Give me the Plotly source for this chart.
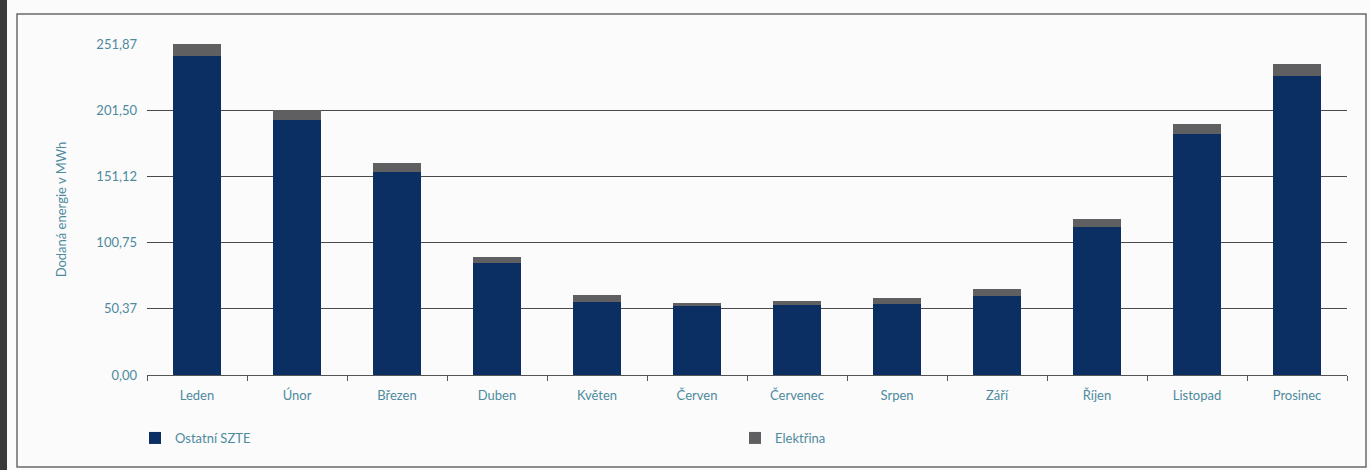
import plotly.graph_objects as go

months = ["Leden", "Únor", "Březen", "Duben", "Květen", "Červen",
          "Červenec", "Srpen", "Září", "Říjen", "Listopad", "Prosinec"]
ostatni_szte = [242.8, 194.1, 154.7, 85.0, 55.8, 52.5, 53.3, 53.8, 60.1, 112.6, 183.2, 227.5]
elektrina = [9.1, 7.4, 6.4, 5.0, 5.1, 2.5, 3.0, 4.6, 5.1, 6.1, 7.6, 9.0]
tick_vals = [0, 50.37, 100.75, 151.12, 201.50, 251.87]
tick_text = ["0,00", "50,37", "100,75", "151,12", "201,50", "251,87"]

NAVY = "#0b2f63"
GREY = "#5f5f62"
TXT = "#4d8a9e"
FONT = "Lato"

L, R, T, B = 147, 23, 44, 95
W, H = 1370, 470
pw = W - L - R
ph = H - T - B

def px_x(x):
    return (x - L) / pw

def px_y(y):
    return (H - B - y) / ph

fig = go.Figure()
fig.add_trace(go.Bar(x=months, y=ostatni_szte, name="Ostatní SZTE", legend="legend",
                     marker=dict(color=NAVY, line=dict(width=0)), width=0.48))
fig.add_trace(go.Bar(x=months, y=elektrina, name="Elektřina", legend="legend2",
                     marker=dict(color=GREY, line=dict(width=0)), width=0.48))

shapes = [
    dict(type="rect", xref="paper", yref="paper",
         x0=px_x(17), x1=px_x(1366), y0=px_y(467), y1=px_y(14),
         line=dict(color="#6a6a6a", width=1.5), layer="below"),
    dict(type="rect", xref="paper", yref="paper",
         x0=px_x(0), x1=px_x(7), y0=px_y(470), y1=px_y(0),
         fillcolor="#3a3a3a", line=dict(width=0), layer="below"),
]

legend_common = dict(orientation="h", xanchor="left", yanchor="middle",
                     font=dict(family=FONT, size=13, color=TXT), itemwidth=30,
                     bgcolor="rgba(0,0,0,0)")

fig.update_layout(
    width=W, height=H,
    margin=dict(l=L, r=R, t=T, b=B, autoexpand=False),
    paper_bgcolor="#fbfbfb",
    plot_bgcolor="rgba(0,0,0,0)",
    barmode="stack",
    font=dict(family=FONT, size=13, color=TXT),
    showlegend=True,
    legend=dict(x=px_x(135), y=px_y(438), **legend_common),
    legend2=dict(x=px_x(735), y=px_y(438), **legend_common),
    shapes=shapes,
    xaxis=dict(
        showgrid=False, showline=True, linecolor="#555555", linewidth=1,
        ticks="outside", tickson="boundaries", ticklen=5, tickcolor="#555555",
        ticklabelstandoff=8,
        tickfont=dict(family=FONT, size=13, color=TXT),
        fixedrange=True,
    ),
    yaxis=dict(
        range=[0, 251.87], tickvals=tick_vals, ticktext=tick_text,
        showgrid=True, gridcolor="#4a4a4a", gridwidth=1,
        zeroline=False, showline=False, ticks="",
        ticklabelstandoff=9,
        tickfont=dict(family=FONT, size=13, color=TXT),
        title=dict(text="Dodaná energie v MWh", font=dict(family=FONT, size=13, color=TXT), standoff=26),
        fixedrange=True,
    ),
)

fig.write_html("out.html")
